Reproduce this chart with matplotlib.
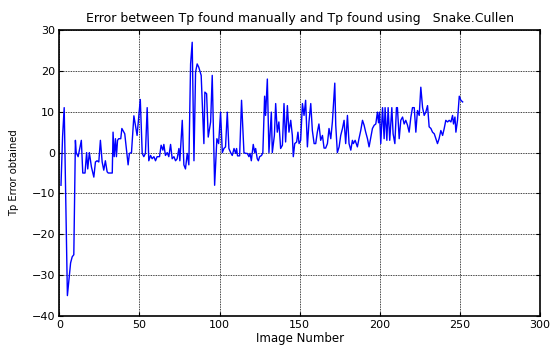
import matplotlib
matplotlib.use("Agg")
import matplotlib.pyplot as plt

image_number = [
    1, 2, 3, 5, 7, 8, 9, 10, 10.5, 11.7, 13.7, 14.6, 16, 17, 17.7, 18.7, 20, 21.5, 22.5, 23.5,
    24.6, 25.6, 26.7, 27.7, 28.7, 29.8, 30.5, 33, 33.5, 34.2, 35, 35.6, 36.3, 37, 38.3, 39,
    40.8, 42.9, 43.7, 45, 46.5, 48.5, 50.5,
    51.7, 52.7, 53.7, 54.8, 55.8, 56.9, 57.9, 59, 60, 61, 62.5, 63.5, 64.6, 65.2, 66.2, 67.3,
    68.3, 69.4, 70.4, 71.5, 72.5, 73.5, 74.6, 75.2, 76.7, 77.7, 78.7, 79.8, 80.8, 81.9, 82.9,
    84, 85, 86, 87, 88.5, 90.2, 90.8, 91.9, 92.9, 94.4, 95.4, 96.9, 98.3, 99.4, 100.6,
    101.7, 102.7, 103.7, 104.8, 105.8, 106.9, 107.9, 109, 110, 110.6, 111.2, 112.5, 113.7,
    115.2, 116.2, 117.3, 118.3, 119, 119.8, 120.4, 121, 121.9, 122.5, 123.5, 124.2, 125,
    126.2, 127, 128.1, 128.7, 129.8, 130.8, 132.3, 132.9, 134.2, 135, 136, 137, 138.1, 139.2,
    140.2, 141.2, 142.3, 143.3, 144.4, 145.4, 146, 146.9, 148.1, 148.9, 149.6, 150.6, 151.7,
    152.7, 153.7,
    154.8, 155.8, 156.9, 157.9, 159, 160, 161, 162, 163.1, 164.2, 165.2, 166.2, 167.3, 168.3,
    169.4, 170.4, 171.9, 172.5, 173.5, 174.6, 175.6, 176.7, 177.7, 178.7, 179.8, 180.8, 181.9,
    182.9, 183.5, 184.6, 186, 187, 188.1, 189.2, 190.2, 191.2, 192.3, 193.3, 194.4, 195.4,
    196.5, 197.5, 198.5, 199.2, 199.8, 200.6, 201.7,
    202.7, 203.3, 204.4, 205.2, 206.2, 207.5, 208.3, 209.4, 210.4, 211, 212.1, 213.1, 214.2,
    215.2, 216.2, 217.3, 218.3, 219.4, 220.4, 221.5, 222.5, 223.5, 224.6, 225.6, 226.7, 227.7,
    228.7, 229.8, 230.8, 231.9, 232.9, 234, 235, 236, 237, 238.1, 239.2, 240.2, 241.2, 242.3,
    243.3, 244.4, 245.4, 246, 246.9, 247.5, 248.5, 249.6, 250.6, 251.7,
]

tp_error = [
    -8, 4, 11, -35, -27, -25.5, -25, 3, 0, -1, 3, -5, -5, 0, -4, 0, -3.5, -6, -2.3, -2,
    -2.3, 3, -2.3, -4.3, -2, -4.7, -5, -5, 5, -1, 3.4, -1, 3, 3.4, 3.4, 5.9,
    4.6, -3, -0.2, 0, 9, 4.2, 13,
    -0.2, -1, -0.2, 11, -2, -0.7, -1.5, -1, -2, -1, -1, 1.8, 0.6, 2, -0.7, 0,
    -1, 2, -1.5, -1, -2, -1.5, 1, -2, 7.9, -3, -4, -0.2, -3, 21.7, 27,
    -2, 19.7, 21.7, 20.9, 18.9, 2.2, 14.8, 14.4, 3.8, 7.5, 18.9, -8, 3.4, 2.2, 9.9,
    0, 1, 1.4, 9.9, 1, 0, -0.7, 1, -0.2, 1, -0.8, -0.8, 12.8,
    0, -0.2, -0.2, -1, -0.2, -2, 0, 2, 0, 1, -1.5, -2, -1,
    -0.7, 0, 13.8, 9.1, 18, 0, 9.9, 0, 4.2, 12, 5, 7.5, 1, 1.8,
    12, 2.6, 11.5, 5, 7.9, 4.2, -1, 2.2, 2.6, 5, 2.2, 3, 12,
    9.1, 12.8,
    1.4, 7.5, 12, 5.4, 2.2, 2.2, 5, 7, 3, 4.2, 1.1, 1.1, 2.2, 5.9,
    3.4, 7.5, 17, 6.7, 0, 1.4, 4.2, 5.9, 7.9, 2.2, 9.1, 2.2, 0.6,
    3, 2.2, 3, 1.4, 3.4, 5.4, 7.9, 6.7, 5, 3.4, 1.4, 3.8, 5.9,
    6.7, 7, 9.9, 7.3, 9.9, 2.2, 11,
    3.4, 11, 3, 11, 3, 11, 4.6, 2.2, 11, 11, 3.4, 7.9, 8.7,
    7, 7.9, 6.7, 5, 8.7, 11, 11, 5, 10.3, 9.1, 16, 11, 9.1,
    9.9, 11.5, 6.3, 5.9, 5, 4.6, 3.4, 2.2, 3.4, 5.4, 4.2, 5.9, 7.9, 7.5,
    7.9, 7.5, 9.1, 7, 8.7, 5, 7.9, 13.8, 12.8, 12.4,
]

x_ticks = [0, 50, 100, 150, 200, 250, 300]
y_ticks = [-40, -30, -20, -10, 0, 10, 20, 30]

plt.rcParams['font.family'] = ['DejaVu Sans']

fig = plt.figure(figsize=(5.55, 3.45), dpi=100)
ax = fig.add_axes([0.107, 0.084, 0.866, 0.829])
ax.plot(image_number, tp_error, color='#0000ff', linewidth=1.0)

ax.set_xlim(0, 300)
ax.set_ylim(-40, 30)
ax.set_xticks(x_ticks)
ax.set_yticks(y_ticks)
ax.tick_params(direction='in', length=3, width=0.8, labelsize=8, pad=3,
               top=True, right=True)
ax.grid(True, color='black', linestyle=(0, (1, 1)), linewidth=0.6)
for s in ax.spines.values():
    s.set_linewidth(1.2)
    s.set_color('black')

ax.set_title('Error between Tp found manually and Tp found using   Snake.Cullen',
             fontsize=9, pad=6)
ax.set_xlabel('Image Number', fontsize=8.5, labelpad=1)
ax.set_ylabel('Tp Error obtained', fontsize=7.2, labelpad=9)

fig.savefig('out.png', dpi=100)
